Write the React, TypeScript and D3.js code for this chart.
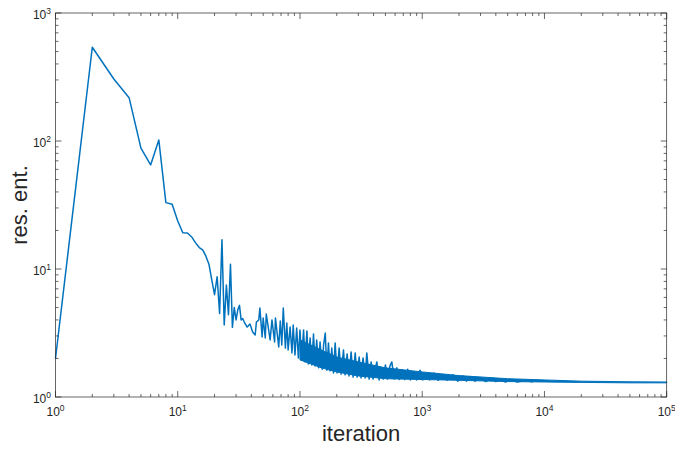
import React from 'react';
import * as d3 from 'd3';

// first iterations, read one by one
const headIter = [1, 2, 3, 4, 5, 6, 7, 8, 9, 10, 11, 12, 13, 14, 15, 16, 17, 18, 19, 20,
  21, 22, 23, 24, 25, 26, 27, 28, 29, 30, 31, 32, 33, 34, 35];
const headVal = [2.0, 540, 305, 218, 88, 65, 102, 33, 32, 23.7, 19.2, 19.1, 17.8, 16.0, 14.7,
  14.1, 12.6, 10.9, 8.2, 6.3, 8.7, 4.5, 16.9, 3.65, 7.5, 4.4, 10.9, 3.5, 5.0, 4.0, 4.8, 5.2,
  4.0, 4.1, 3.85];

// oscillating part, peaks and troughs
const tailIter = [37, 39, 41, 43, 44, 46, 47, 49, 50, 52, 53, 57, 59, 62, 63, 67, 69, 71, 73, 76,
  78, 80, 83, 86, 88, 91, 94, 97, 100, 103, 107, 110, 114, 117, 121, 125, 129, 133, 137, 142,
  146, 152, 156, 161, 166, 171, 176, 182, 188, 194, 201, 209, 217, 227, 234, 243, 252, 262, 272,
  283, 293, 305, 316, 328, 341, 352, 368, 382, 396, 425, 444, 462, 480, 500, 520, 545, 564, 590,
  620, 650, 690, 720, 760, 800, 850, 900, 961, 1010, 1080, 1150, 1250, 1350, 1450, 1600, 1790,
  1950, 2150, 2300, 2466, 2700, 3000, 3300, 3700, 4000, 4340, 4800, 5300, 6000, 7000, 8000];
const tailVal = [3.52, 3.72, 3.22, 3.05, 3.85, 4.0, 4.96, 2.94, 4.14, 2.89, 4.45, 2.79, 4.0, 2.69,
  4.14, 2.46, 3.92, 2.55, 4.96, 2.41, 3.79, 2.33, 3.52, 2.21, 3.65, 2.13, 3.46, 2.02, 3.34, 1.95,
  3.34, 1.88, 3.28, 1.81, 2.89, 1.78, 3.11, 1.75, 2.79, 1.69, 2.69, 1.65, 2.55, 3.16, 1.62, 2.64,
  1.6, 2.41, 1.54, 2.64, 1.54, 2.41, 1.51, 2.33, 1.49, 2.17, 1.46, 2.25, 1.43, 2.21, 1.43, 2.05,
  1.41, 2.02, 1.41, 2.21, 1.38, 1.88, 1.38, 1.88, 1.36, 1.69, 1.38, 1.78, 1.38, 1.75, 1.88, 1.38,
  1.69, 1.37, 1.62, 1.37, 1.65, 1.36, 1.57, 1.36, 1.62, 1.36, 1.51, 1.36, 1.54, 1.35, 1.49, 1.35,
  1.49, 1.33, 1.46, 1.33, 1.44, 1.33, 1.41, 1.32, 1.39, 1.32, 1.36, 1.31, 1.36, 1.31, 1.35, 1.31];

// dense region: where the line fills a solid band
const bandIter = [100, 150, 200, 300, 500, 1000, 2000, 5000, 10000, 20000, 50000, 100000];
const bandHigh = [2.79, 2.33, 2.05, 1.88, 1.69, 1.57, 1.47, 1.39, 1.36, 1.33, 1.315, 1.31];
const bandLow = [1.95, 1.69, 1.57, 1.46, 1.39, 1.37, 1.35, 1.32, 1.31, 1.30, 1.29, 1.29];

const xMajor = [1, 10, 100, 1000, 10000, 100000];
const xExp = ['0', '1', '2', '3', '4', '5'];
const yMajor = [1, 10, 100, 1000];
const yExp = ['0', '1', '2', '3'];
const minorSteps = [2, 3, 4, 5, 6, 7, 8, 9];

const W = 675;
const H = 449;
const left = 55.5, right = 666.7, top = 13, bottom = 397;
const axisColor = '#262626';
const lineColor = '#0072BD';
const font = '"Liberation Sans", Arial, Helvetica, sans-serif';

export default function App() {
  const x = d3.scaleLog().domain([1, 1e5]).range([left, right]);
  const y = d3.scaleLog().domain([1, 1e3]).range([bottom, top]);

  const iters = headIter.concat(tailIter);
  const vals = headVal.concat(tailVal);
  const pts: [number, number][] = iters.map((it, i) => [it, vals[i]]);

  const line = d3.line<[number, number]>()
    .x(d => x(d[0]))
    .y(d => y(d[1]));

  const band = d3.area<number>()
    .x(i => x(bandIter[i]))
    .y0(i => y(bandLow[i]))
    .y1(i => y(bandHigh[i]));

  const xMinor = xMajor.slice(0, -1).flatMap(m => minorSteps.map(s => m * s));
  const yMinor = yMajor.slice(0, -1).flatMap(m => minorSteps.map(s => m * s));

  return (
    <div style={{ position: 'absolute', left: 0, top: 0 }}>
      <svg width={W} height={H} style={{ display: 'block', background: '#fff' }} fontFamily={font}>
        {/* data */}
        <path d={band(bandIter.map((_, i) => i)) || ''} fill={lineColor} stroke={lineColor} strokeWidth={1} />
        <path d={line(pts) || ''} fill="none" stroke={lineColor} strokeWidth={1.5} strokeLinejoin="round" />

        {/* box */}
        <rect x={left} y={top} width={right - left} height={bottom - top} fill="none" stroke={axisColor} strokeWidth={0.7} />

        {/* x ticks, bottom and top, pointing in */}
        {xMajor.map(v => (
          <g key={'xM' + v}>
            <line x1={x(v)} x2={x(v)} y1={bottom} y2={bottom - 6} stroke={axisColor} strokeWidth={0.7} />
            <line x1={x(v)} x2={x(v)} y1={top} y2={top + 6} stroke={axisColor} strokeWidth={0.7} />
          </g>
        ))}
        {xMinor.map(v => (
          <g key={'xm' + v}>
            <line x1={x(v)} x2={x(v)} y1={bottom} y2={bottom - 3} stroke={axisColor} strokeWidth={0.7} />
            <line x1={x(v)} x2={x(v)} y1={top} y2={top + 3} stroke={axisColor} strokeWidth={0.7} />
          </g>
        ))}
        {yMajor.map(v => (
          <g key={'yM' + v}>
            <line x1={left} x2={left + 6} y1={y(v)} y2={y(v)} stroke={axisColor} strokeWidth={0.7} />
            <line x1={right} x2={right - 6} y1={y(v)} y2={y(v)} stroke={axisColor} strokeWidth={0.7} />
          </g>
        ))}
        {yMinor.map(v => (
          <g key={'ym' + v}>
            <line x1={left} x2={left + 3} y1={y(v)} y2={y(v)} stroke={axisColor} strokeWidth={0.7} />
            <line x1={right} x2={right - 3} y1={y(v)} y2={y(v)} stroke={axisColor} strokeWidth={0.7} />
          </g>
        ))}

        {/* tick labels */}
        {xMajor.map((v, i) => (
          <text key={'xl' + v} x={x(v)} y={416} textAnchor="middle" fontSize={12} fill={axisColor}>
            10<tspan fontSize={8.5} dy={-5}>{xExp[i]}</tspan>
          </text>
        ))}
        {yMajor.map((v, i) => (
          <text key={'yl' + v} x={51} y={y(v) + 6} textAnchor="end" fontSize={12} fill={axisColor}>
            10<tspan fontSize={8.5} dy={-5}>{yExp[i]}</tspan>
          </text>
        ))}

        {/* axis titles */}
        <text x={(left + right) / 2} y={441} textAnchor="middle" fontSize={22} fill={axisColor}>iteration</text>
        <text transform={`translate(27,${(top + bottom) / 2}) rotate(-90)`} textAnchor="middle" fontSize={22} fill={axisColor}>res. ent.</text>
      </svg>
    </div>
  );
}
